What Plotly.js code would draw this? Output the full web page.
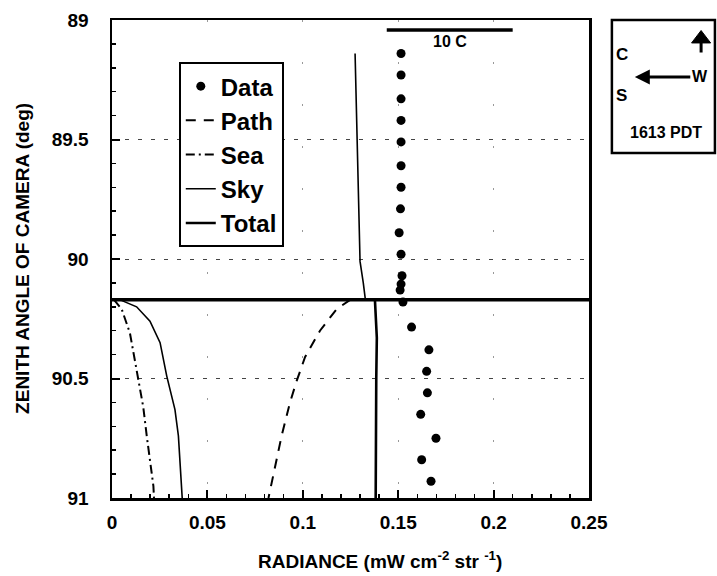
<!DOCTYPE html>
<html>
<head>
<meta charset="utf-8">
<script src="https://cdn.plot.ly/plotly-3.0.1.min.js"></script>
<style>html,body{margin:0;padding:0;background:#fff;}</style>
</head>
<body>
<div id="chart" style="width:717px;height:576px;"></div>
<script>
// ---- Data ----
const dataZenith   = [89.14, 89.23, 89.33, 89.42, 89.51, 89.61, 89.70, 89.79, 89.89, 89.98, 90.07, 90.105, 90.13, 90.18, 90.285, 90.38, 90.47, 90.56, 90.65, 90.75, 90.84, 90.93];
const dataRadiance = [0.1515, 0.1515, 0.1515, 0.1515, 0.1515, 0.1515, 0.1515, 0.1512, 0.1505, 0.1515, 0.152, 0.1515, 0.151, 0.1525, 0.157, 0.1661, 0.1649, 0.1653, 0.1618, 0.1698, 0.1623, 0.1672];

const pathZenith   = [90.17, 90.21, 90.30, 90.41, 90.51, 90.60, 90.74, 90.87, 90.96, 91.0];
const pathRadiance = [0.125, 0.1177, 0.109, 0.1012, 0.0968, 0.0933, 0.0889, 0.0854, 0.0828, 0.082];

const seaZenith    = [90.17, 90.21, 90.31, 90.50, 90.62, 90.74, 90.85, 90.95, 91.0];
const seaRadiance  = [0.001, 0.0051, 0.0094, 0.0138, 0.0164, 0.0182, 0.0199, 0.0217, 0.022];

const skyZenith    = [89.14, 89.68, 90.01, 90.10, 90.17, null, 90.17, 90.20, 90.26, 90.35, 90.49, 90.63, 90.74, 90.94, 91.0];
const skyRadiance  = [0.1274, 0.1290, 0.1300, 0.1317, 0.1328, null, 0.004, 0.0129, 0.0199, 0.0252, 0.0287, 0.0330, 0.0348, 0.0365, 0.0368];

const totalZenith   = [90.17, 90.33, 90.5, 90.75, 91.0];
const totalRadiance = [0.1378, 0.1388, 0.1385, 0.1383, 0.1382];

const horizonZenith = 90.17;
const scaleBarX = [0.144, 0.210];
const scaleBarZenith = 89.042;
const scaleBarLabel = '10 C';
const timeLabel = '1613 PDT';

const FONT = 'Liberation Sans, Arial, Helvetica, sans-serif';

const traces = [
  {name:'Data', x:dataRadiance, y:dataZenith, type:'scatter', mode:'markers',
   marker:{color:'#000', size:9}},
  {name:'Path', x:pathRadiance, y:pathZenith, type:'scatter', mode:'lines',
   line:{color:'#000', width:2, dash:'10px,8px'}},
  {name:'Sea', x:seaRadiance, y:seaZenith, type:'scatter', mode:'lines',
   line:{color:'#000', width:2, dash:'9px,4px,2px,4px'}},
  {name:'Sky', x:skyRadiance, y:skyZenith, type:'scatter', mode:'lines', connectgaps:false,
   line:{color:'#000', width:1.6}},
  {name:'Total', x:totalRadiance, y:totalZenith, type:'scatter', mode:'lines',
   line:{color:'#000', width:2.6}}
];

const layout = {
  width:717, height:576,
  margin:{l:112, r:128, t:20, b:78},
  paper_bgcolor:'#fff', plot_bgcolor:'#fff',
  font:{family:FONT, color:'#000'},
  showlegend:true,
  legend:{x:0.14, y:0.912, xanchor:'left', yanchor:'top', bgcolor:'#fff',
          bordercolor:'#000', borderwidth:2, itemwidth:30, tracegroupgap:0,
          font:{family:FONT, size:24, weight:'bold', color:'#000'}},
  xaxis:{range:[0,0.25], tick0:0, dtick:0.05, ticks:'inside', ticklen:8, tickwidth:2, tickcolor:'#000',
         showline:true, linewidth:2.5, linecolor:'#000', mirror:true, zeroline:false,
         showgrid:true, gridcolor:'#999', gridwidth:1, griddash:'2px,40px',
         ticklabelstandoff:6,
         tickfont:{family:FONT, size:19, weight:'bold', color:'#000'},
         minor:{dtick:0.01, ticks:'inside', ticklen:4, tickwidth:1.5, tickcolor:'#000', showgrid:false}},
  yaxis:{range:[91,89], tick0:89, dtick:0.5, ticks:'inside', ticklen:8, tickwidth:2, tickcolor:'#000',
         showline:true, linewidth:2.5, linecolor:'#000', mirror:true, zeroline:false,
         showgrid:true, gridcolor:'#444', gridwidth:1, griddash:'4px,9px',
         ticklabelstandoff:17,
         tickfont:{family:FONT, size:19, weight:'bold', color:'#000'},
         minor:{dtick:0.1, ticks:'inside', ticklen:4, tickwidth:1.5, tickcolor:'#000', showgrid:false}},
  shapes:[
    {type:'line', xref:'paper', yref:'y', x0:0, x1:1, y0:horizonZenith, y1:horizonZenith,
     line:{color:'#000', width:3.5}},
    {type:'line', xref:'x', yref:'y', x0:scaleBarX[0], x1:scaleBarX[1], y0:scaleBarZenith, y1:scaleBarZenith,
     line:{color:'#000', width:3.5}},
    {type:'rect', xref:'paper', yref:'paper', x0:1.048, x1:1.264, y0:0.722, y1:1.0,
     line:{color:'#000', width:2.5}, fillcolor:'rgba(0,0,0,0)'},
    // north arrow: stem + head
    {type:'line', xref:'paper', yref:'paper', x0:1.235, x1:1.235, y0:0.932, y1:0.958,
     line:{color:'#000', width:3}},
    {type:'path', xref:'paper', yref:'paper',
     path:'M 1.215 0.952 L 1.235 0.978 L 1.255 0.952 Z',
     fillcolor:'#000', line:{color:'#000', width:1}}
  ],
  annotations:[
    {text:'RADIANCE (mW cm<sup>-2</sup> str <sup>-1</sup>)', xref:'paper', yref:'paper',
     x:0.562, y:-0.13, xanchor:'center', yanchor:'middle', showarrow:false,
     font:{family:FONT, size:19, weight:'bold'}},
    {text:'ZENITH ANGLE OF CAMERA (deg)', xref:'paper', yref:'paper', textangle:-90,
     x:-0.189, y:0.502, xanchor:'center', yanchor:'middle', showarrow:false,
     font:{family:FONT, size:19, weight:'bold'}},
    {text:scaleBarLabel, xref:'x', yref:'y', x:(scaleBarX[0]+scaleBarX[1])/2, y:89.092,
     xanchor:'center', yanchor:'middle', showarrow:false,
     font:{family:FONT, size:16, weight:'bold'}},
    {text:'C', xref:'paper', yref:'paper', x:1.069, y:0.927, xanchor:'center', yanchor:'middle',
     showarrow:false, font:{family:FONT, size:17, weight:'bold'}},
    {text:'S', xref:'paper', yref:'paper', x:1.069, y:0.843, xanchor:'center', yanchor:'middle',
     showarrow:false, font:{family:FONT, size:17, weight:'bold'}},
    {text:'W', xref:'paper', yref:'paper', x:1.096, y:0.881, ax:65, ay:0,
     showarrow:true, arrowhead:2, arrowsize:1, arrowwidth:3, arrowcolor:'#000',
     font:{family:FONT, size:16, weight:'bold'}},
    {text:timeLabel, xref:'paper', yref:'paper', x:1.162, y:0.764, xanchor:'center', yanchor:'middle',
     showarrow:false, font:{family:FONT, size:16, weight:'bold'}}
  ]
};

Plotly.newPlot('chart', traces, layout, {displayModeBar:false, staticPlot:true});
</script>
</body>
</html>
